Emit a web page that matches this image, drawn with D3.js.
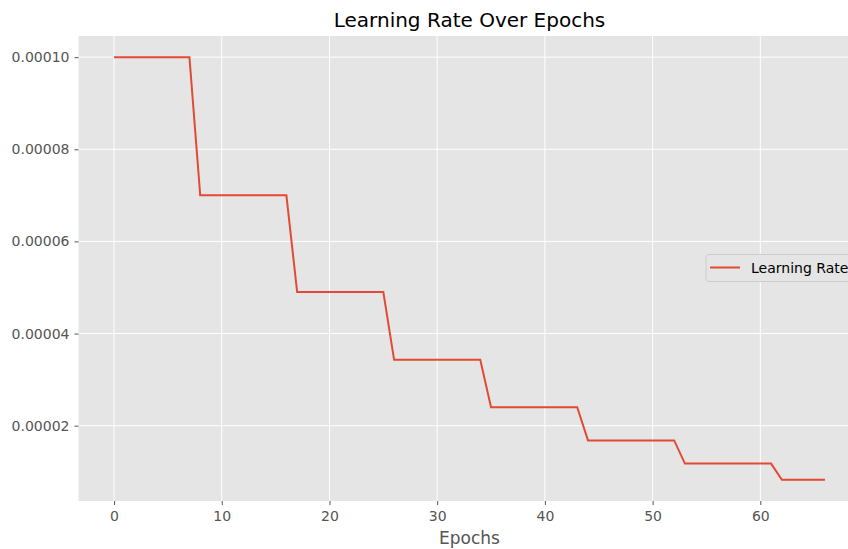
<!DOCTYPE html>
<html>
<head>
<meta charset="utf-8">
<script src="https://cdn.jsdelivr.net/npm/d3@7"></script>
<style>
  body { margin: 0; background: #fff; }
  svg text { font-family: "DejaVu Sans", sans-serif; }
</style>
</head>
<body>
<div id="chart"></div>
<script>
// Learning rate per epoch
const epochs = d3.range(0, 67);
const rateSteps = [0.0001, 0.00007, 0.000049, 0.0000343, 0.00002401, 0.000016807, 0.0000117649, 0.00000823543];
const stepLengths = [8, 9, 9, 9, 9, 9, 9, 5];
const xTicks = [0, 10, 20, 30, 40, 50, 60];
const yTicks = [0.00002, 0.00004, 0.00006, 0.00008, 0.0001];

const rates = [];
stepLengths.forEach((n, i) => { for (let k = 0; k < n; k++) rates.push(rateSteps[i]); });
const data = epochs.map((e, i) => ({ epoch: e, lr: rates[i] }));

function createLrChart() {
    const W = 848, H = 549;
    const margin = { top: 36, left: 78.5, right: -12.5, bottom: 48 };
    const width = W - margin.left - margin.right;
    const height = H - margin.top - margin.bottom;

    const svg = d3.select('#chart').append('svg')
        .attr('width', W)
        .attr('height', H);

    const g = svg.append('g')
        .attr('transform', `translate(${margin.left},${margin.top})`);

    const xScale = d3.scaleLinear().domain([-3.3, 69.3]).range([0, width]);
    const yMin = 0.00000823543, yMax = 0.0001;
    const pad = (yMax - yMin) * 0.05;
    const yScale = d3.scaleLinear().domain([yMin - pad, yMax + pad]).range([height, 0]);

    g.append('rect')
        .attr('width', width)
        .attr('height', height)
        .attr('fill', '#e5e5e5');

    // Grid
    g.selectAll('.vgrid').data(xTicks).enter().append('line')
        .attr('x1', d => xScale(d)).attr('x2', d => xScale(d))
        .attr('y1', 0).attr('y2', height)
        .attr('stroke', '#fff').attr('stroke-width', 1);
    g.selectAll('.hgrid').data(yTicks).enter().append('line')
        .attr('y1', d => yScale(d)).attr('y2', d => yScale(d))
        .attr('x1', 0).attr('x2', width)
        .attr('stroke', '#fff').attr('stroke-width', 1);

    // Axes
    const xAxis = g.append('g')
        .attr('transform', `translate(0, ${height})`)
        .call(d3.axisBottom(xScale).tickValues(xTicks).tickSize(4).tickPadding(6));
    const yAxis = g.append('g')
        .call(d3.axisLeft(yScale).tickValues(yTicks).tickSize(4).tickPadding(5)
            .tickFormat(d3.format('.5f')));

    [xAxis, yAxis].forEach(a => {
        a.select('.domain').remove();
        a.selectAll('line').attr('stroke', '#555');
        a.selectAll('text').attr('fill', '#555').style('font-size', '14px');
    });

    // Line
    const line = d3.line()
        .x(d => xScale(d.epoch))
        .y(d => yScale(d.lr));
    g.append('path')
        .datum(data)
        .attr('fill', 'none')
        .attr('stroke', '#E24A33')
        .attr('stroke-width', 2)
        .attr('d', line);

    // Title & label
    svg.append('text')
        .attr('x', margin.left + width / 2)
        .attr('y', 27)
        .attr('text-anchor', 'middle')
        .style('font-size', '20px')
        .attr('fill', '#000')
        .text('Learning Rate Over Epochs');

    svg.append('text')
        .attr('x', margin.left + width / 2)
        .attr('y', 544)
        .attr('text-anchor', 'middle')
        .style('font-size', '17px')
        .attr('fill', '#555')
        .text('Epochs');

    // Legend
    const lg = svg.append('g').attr('transform', 'translate(706, 254.5)');
    lg.append('rect')
        .attr('width', 150).attr('height', 27)
        .attr('rx', 3)
        .attr('fill', '#e5e5e5')
        .attr('stroke', '#ccc')
        .attr('stroke-width', 1);
    lg.append('line')
        .attr('x1', 4).attr('x2', 34)
        .attr('y1', 13).attr('y2', 13)
        .attr('stroke', '#E24A33').attr('stroke-width', 2);
    lg.append('text')
        .attr('x', 45).attr('y', 18)
        .style('font-size', '14px')
        .attr('fill', '#000')
        .text('Learning Rate');
}

createLrChart();
</script>
</body>
</html>
